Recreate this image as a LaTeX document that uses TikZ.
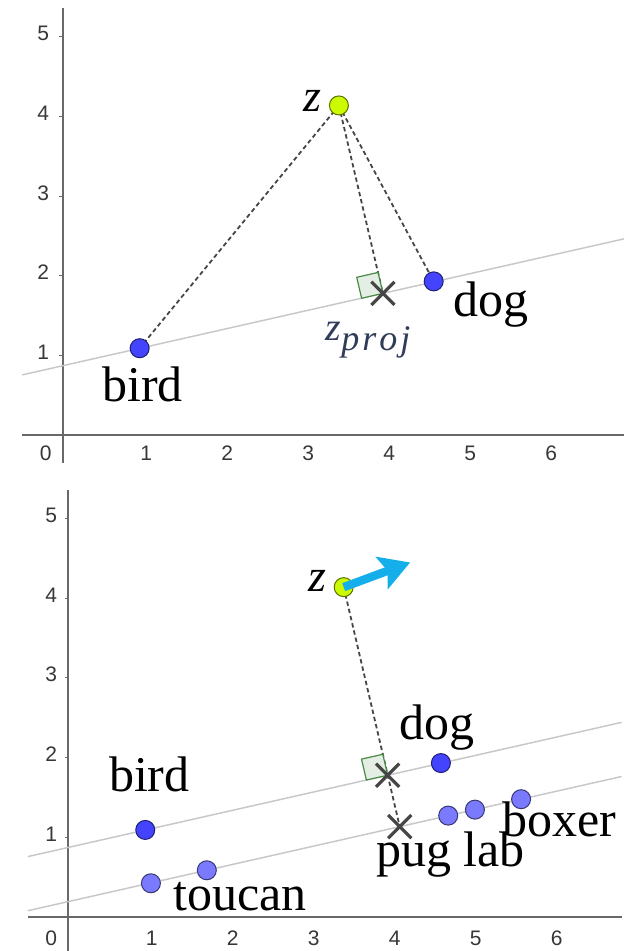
\documentclass[tikz,border=0pt]{standalone}
\usepackage{fontspec}
\setmainfont{Liberation Serif}
\setsansfont{Liberation Sans}
\usetikzlibrary{arrows.meta,shapes.misc,backgrounds}

\definecolor{axisgray}{RGB}{105,105,105}
\definecolor{linegray}{RGB}{200,200,200}
\definecolor{dashgray}{RGB}{70,70,70}
\definecolor{ptblue}{RGB}{68,68,255}
\definecolor{ptlight}{RGB}{122,122,255}
\definecolor{ptz}{RGB}{204,250,0}
\definecolor{anglegreen}{RGB}{70,140,70}
\definecolor{anglefill}{RGB}{228,238,228}
\definecolor{pushcyan}{RGB}{20,175,235}
\definecolor{projtext}{RGB}{50,60,90}
\definecolor{ticktext}{RGB}{55,55,55}

\begin{document}
\begin{tikzpicture}[
  axis/.style={axisgray, line width=1pt},
  ray/.style={linegray, line width=0.75pt},
  link/.style={dashgray, line width=0.9pt, dash pattern=on 2.2pt off 1.5pt},
  dot/.style={circle, draw=#1!45!black, fill=#1, line width=0.5pt,
              minimum size=9.5pt, inner sep=0pt},
  projx/.style={cross out, draw=dashgray, line width=1.6pt, minimum size=10pt, inner sep=0pt},
  angle/.style={draw=anglegreen, fill=anglefill, line width=0.6pt},
  word/.style={font=\fontsize{25}{30}\selectfont, anchor=base, inner sep=0pt},
  zlab/.style={font=\fontsize{23}{27}\selectfont\itshape, anchor=base, inner sep=0pt},
  ticklab/.style={font=\fontsize{10.5}{12}\selectfont\sffamily, text=ticktext, inner sep=0pt},
  push/.style={pushcyan, line width=4.2pt, -{Stealth[length=15pt, width=17pt, inset=3pt]}}]
\useasboundingbox (0,0) rectangle (316.5pt,475.5pt);

% top panel: distances from z
\begin{scope}[shift={(31.35pt,258pt)}, x=40.5pt, y=39.8pt]
  \draw[axis] (-0.5,0) -- (6.93,0);
  \draw[axis] (0,-0.35) -- (0,5.36);
  \foreach \i in {1,...,5} {
    \draw[axisgray, line width=0.5pt] (-0.04,\i) -- (0,\i);
    \node[ticklab] at (-0.24,\i+0.04) {\i};
  }
  \foreach \i in {1,...,6}
    \node[ticklab] at (\i+0.03,-0.23) {\i};
  \node[ticklab] at (-0.21,-0.23) {0};
  \coordinate (ta) at (-0.5,0.755);
  \coordinate (tb) at (6.93,2.464);
  \draw[ray] (ta) -- (tb);
  \filldraw[angle] (3.953,1.779) -- (3.690,1.718) -- (3.630,1.981) -- (3.893,2.042) -- cycle;
  \node[projx] (tproj) at (3.953,1.779) {};
  \node[dot=ptz] (tz) at (3.41,4.14) {};
  \node[dot=ptblue] (tbird) at (0.95,1.09) {};
  \node[dot=ptblue] (tdog) at (4.58,1.93) {};
  \begin{scope}[on background layer]
    \draw[link] (tz.center) -- (tbird.center);
    \draw[link] (tz.center) -- (tproj.center);
    \draw[link] (tz.center) -- (tdog.center);
  \end{scope}
  \node[zlab] (tzlab) at (3.08,4.06) {z};
  \node[zlab, text=projtext, font=\fontsize{20}{24}\selectfont\itshape] (tprojlab) at (3.77,1.19)
    {z\raisebox{-5pt}{\fontsize{18}{20}\selectfont p\kern1.5pt r\kern1.5pt o\kern1.5pt j}};
  \node[word] (tbirdlab) at (0.986,0.418) {bird};
  \node[word] (tdoglab) at (5.29,1.486) {dog};
\end{scope}

% bottom panel: moving z
\begin{scope}[shift={(34.15pt,17.15pt)}, x=40.5pt, y=39.8pt]
  \draw[axis] (-0.5,0) -- (6.83,0);
  \draw[axis] (0,-0.43) -- (0,5.36);
  \foreach \i in {1,...,5} {
    \draw[axisgray, line width=0.5pt] (-0.04,\i) -- (0,\i);
    \node[ticklab] at (-0.21,\i+0.04) {\i};
  }
  \foreach \i in {1,...,6}
    \node[ticklab] at (\i+0.03,-0.27) {\i};
  \node[ticklab] at (-0.21,-0.27) {0};
  \coordinate (ua) at (-0.5,0.755);
  \coordinate (ub) at (6.83,2.441);
  \coordinate (la) at (-0.5,0.075);
  \coordinate (lb) at (6.83,1.761);
  \draw[ray] (ua) -- (ub);
  \draw[ray] (la) -- (lb);
  \filldraw[angle] (3.943,1.777) -- (3.680,1.717) -- (3.620,1.980) -- (3.883,2.040) -- cycle;
  \node[projx] (bproj) at (3.943,1.777) {};
  \node[projx] (bproj2) at (4.092,1.131) {};
  \node[dot=ptz] (bz) at (3.40,4.14) {};
  \node[dot=ptblue] (bbird) at (0.95,1.09) {};
  \node[dot=ptblue] (bdog) at (4.60,1.93) {};
  \node[dot=ptlight] (toucan1) at (1.02,0.42) {};
  \node[dot=ptlight] (toucan2) at (1.71,0.583) {};
  \node[dot=ptlight] (pug) at (4.69,1.27) {};
  \node[dot=ptlight] (lab) at (5.02,1.345) {};
  \node[dot=ptlight] (boxer) at (5.59,1.476) {};
  \begin{scope}[on background layer]
    \draw[link] (bz.center) -- (bproj2.center);
  \end{scope}
  \coordinate (bpush) at (4.22,4.45);
  \draw[push] (bz.center) -- (bpush);
  \node[zlab] (bzlab) at (3.07,4.08) {z};
  \node[word] (bdoglab) at (4.55,2.22) {dog};
  \node[word] (bbirdlab) at (1.0,1.57) {bird};
  \node[word] (toucanlab) at (2.12,0.084) {toucan};
  \node[word] (puglab) at (4.72,0.628) {pug lab};
  \node[word] (boxerlab) at (6.06,1.005) {boxer};
\end{scope}
\end{tikzpicture}
\end{document}
